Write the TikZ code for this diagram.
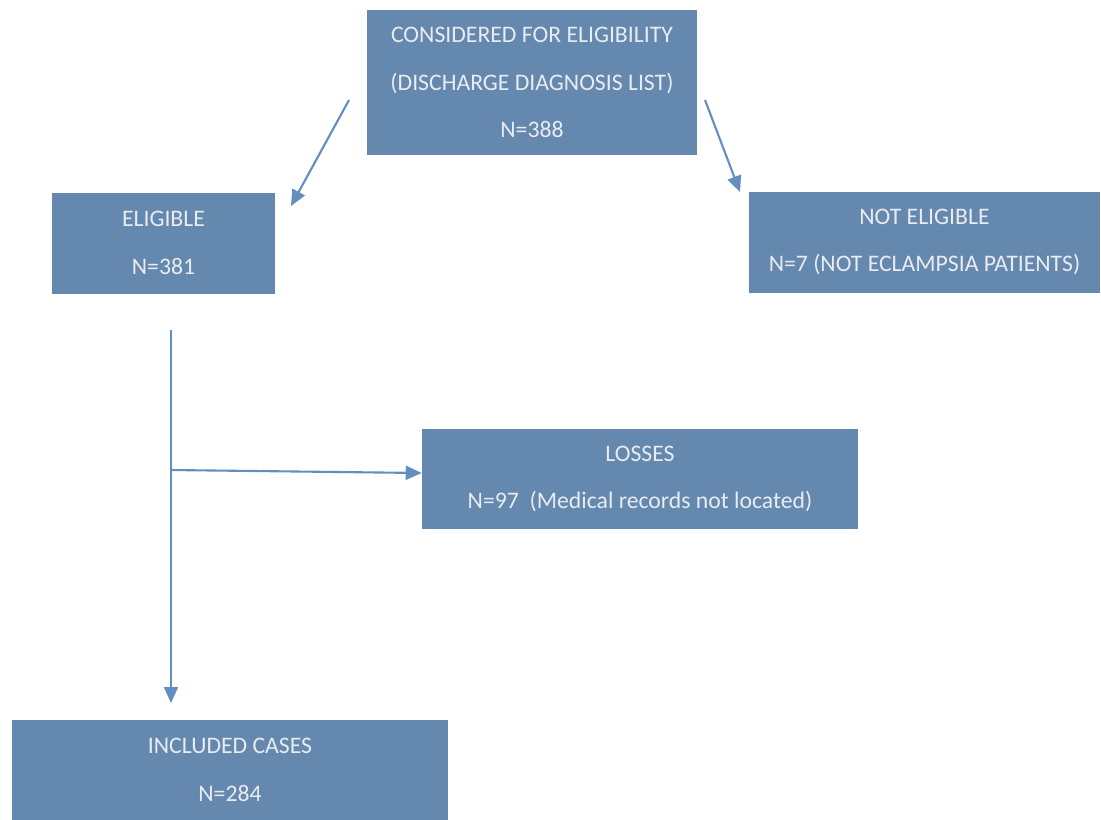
\documentclass[tikz,border=0pt]{standalone}
\usepackage{fontspec}
\setmainfont{Carlito}
\usepackage{tikz}
\usetikzlibrary{arrows.meta,positioning,calc}
\definecolor{boxblue}{RGB}{101,136,174}
\definecolor{boxtext}{RGB}{232,236,241}
\definecolor{arrowblue}{RGB}{98,143,192}
\tikzset{
  flowbox/.style = {fill = boxblue, inner sep = 0pt, align = center, text = boxtext,
    font = \fontsize{13.5}{27.2}\selectfont},
  flowarrow/.style = {draw = arrowblue, line width = 1.2pt,
    -{Triangle[length = 3.2mm, width = 2.8mm]}}
}

\begin{document}
\begin{tikzpicture}[x = 0.02cm, y = -0.02cm]
\useasboundingbox[fill = white] (0,0) rectangle (1101,819);
% boxes
\node[flowbox, minimum width = 6.6cm, minimum height = 2.9cm] (considered) at (532,82.5)
  {CONSIDERED FOR ELIGIBILITY\\(DISCHARGE DIAGNOSIS LIST)\\N=388};
\node[flowbox, minimum width = 4.46cm, minimum height = 2.02cm] (eligible) at (163.5,243)
  {ELIGIBLE\\N=381};
\node[flowbox, minimum width = 7.02cm, minimum height = 2.02cm] (noteligible) at (924.5,242)
  {NOT ELIGIBLE\\N=7 (NOT ECLAMPSIA PATIENTS)};
\node[flowbox, minimum width = 8.72cm, minimum height = 2cm] (losses) at (640,479)
  {LOSSES\\N=97\ \ (Medical records not located)};
\node[flowbox, minimum width = 8.72cm, minimum height = 2cm] (included) at (230,770)
  {INCLUDED CASES\\N=284};
% free ends of the connectors
\coordinate (leftstart) at (349,100);
\coordinate (leftend) at (291,206);
\coordinate (rightstart) at (705,100);
\coordinate (rightend) at (740,192);
\coordinate (trunktop) at (171,330);
\coordinate (trunkend) at (171,703);
\coordinate (branch) at (171,470);
\coordinate (lossesin) at ($(losses.west)+(0,-6)$);
% connectors
\draw[flowarrow] (leftstart) -- (leftend);
\draw[flowarrow] (rightstart) -- (rightend);
\draw[flowarrow] (trunktop) -- (trunkend);
\draw[flowarrow] (branch) -- (lossesin);
\end{tikzpicture}
\end{document}
